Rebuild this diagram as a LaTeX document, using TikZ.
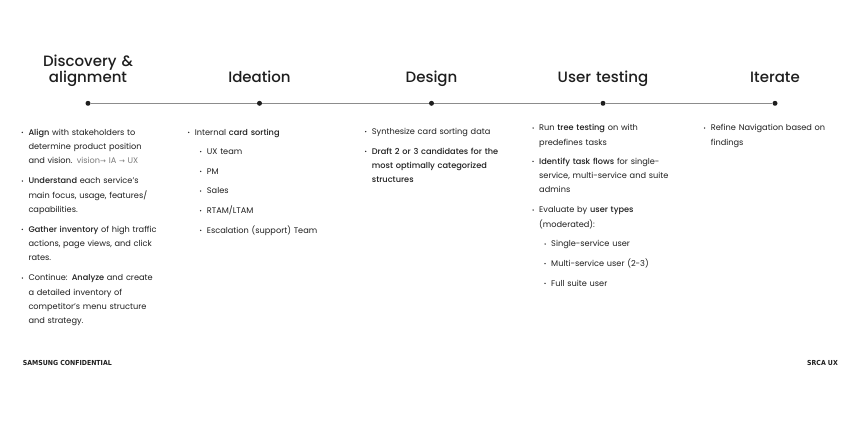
\documentclass[tikz,border=0pt]{standalone}
\usepackage{fontspec}
\setmainfont{Poppins}[BoldFont={Poppins Medium}]
\newfontfamily\arrowfont{DejaVu Sans}
\newfontfamily\footfont{DejaVu Sans Condensed}[BoldFont={DejaVu Sans Condensed Bold}]
\definecolor{ink}{HTML}{1E1E1E}
\definecolor{rulegray}{HTML}{8C8C8C}
\definecolor{muted}{HTML}{7A7A7A}
\tikzset{>=latex}

\begin{document}
\begin{tikzpicture}[x=1pt,y=-1pt,
	stage/.style={font=\fontsize{15}{16.5}\selectfont\bfseries,text=ink,text width=130pt,align=center,anchor=base,inner sep=0},
	point/.style={circle,fill=ink,minimum size=5pt,inner sep=0},
	entry/.style={font=\fontsize{8.2}{14.4}\selectfont,text=ink,text width=170pt,align=left,anchor=base west,inner sep=0},
	foot/.style={font=\footfont\bfseries\fontsize{6.9}{8}\selectfont,text=ink,inner sep=0}]
	\useasboundingbox (0,0) rectangle (861,421);

	% Timeline
	\foreach \x/\y/\t [count=\i] in {88/66/{Discovery \&\\alignment},259.5/82.7/Ideation,431.5/82.7/Design,603/82.7/User testing,775/82.7/Iterate} {
	    \node[stage] (h\i) at (\x,\y) {\t};
	    \node[point] (p\i) at (\x,103.3) {};
	}
	\foreach \a/\b in {p1/p2,p2/p3,p3/p4,p4/p5} {
	    \draw[rulegray,line width=0.8pt] (\a) -- (\b);
	}

	% Discovery
	\node[entry] (disc1) at (28.3,135) {\textbf{Align} with stakeholders to\\determine product position\\and vision. {\color{muted}vision{\arrowfont\fontsize{7}{14.4}\selectfont→} IA {\arrowfont\fontsize{7}{14.4}\selectfont→} UX}};
	\node[entry] (disc2) at (28.3,183.7) {\textbf{Understand} each service’s\\main focus, usage, features/\\capabilities.};
	\node[entry] (disc3) at (28.3,232) {\textbf{Gather inventory} of high traffic\\actions, page views, and click\\rates.};
	\node[entry] (disc4) at (28.3,280.7) {Continue: \textbf{Analyze} and create\\a detailed inventory of\\competitor’s menu structure\\and strategy.};

	% Ideation
	\node[entry] (idea0) at (194.7,135) {Internal \textbf{card sorting}};
	\foreach \t [count=\i] in {UX team,PM,Sales,RTAM/LTAM,Escalation (support) Team} {
	    \node[entry] (idea\i) at (206.7,134.6+19.7*\i) {\t};
	}

	% Design
	\node[entry] (des1) at (371.7,134.3) {Synthesize card sorting data};
	\node[entry] (des2) at (371.7,154) {\textbf{Draft 2 or 3 candidates for the\\most optimally categorized\\structures}};

	% User testing
	\node[entry] (test1) at (539,130.7) {Run \textbf{tree testing} on with\\predefines tasks};
	\node[entry] (test2) at (539,164) {\textbf{Identify task flows} for single-\\service, multi-service and suite\\admins};
	\node[entry] (test3) at (539,212.7) {Evaluate by \textbf{user types}\\(moderated):};
	\foreach \t [count=\i] in {Single-service user,Multi-service user (2-3),Full suite user} {
	    \node[entry] (user\i) at (551,227+19.7*\i) {\t};
	}

	% Iterate
	\node[entry] (iter1) at (710.7,130.7) {Refine Navigation based on\\findings};

	% bullets
	\foreach \n in {disc1,disc2,disc3,disc4,idea0,idea1,idea2,idea3,idea4,idea5,des1,des2,test1,test2,test3,user1,user2,user3,iter1} {
	    \fill[ink] ([xshift=-6pt,yshift=2.7pt]\n.base west) circle (0.75pt);
	}

	% koniec
	\node[foot,anchor=base west] (conf) at (22.7,365) {SAMSUNG CONFIDENTIAL};
	\node[foot,anchor=base east] (team) at (838,365) {SRCA UX};
\end{tikzpicture}
\end{document}
